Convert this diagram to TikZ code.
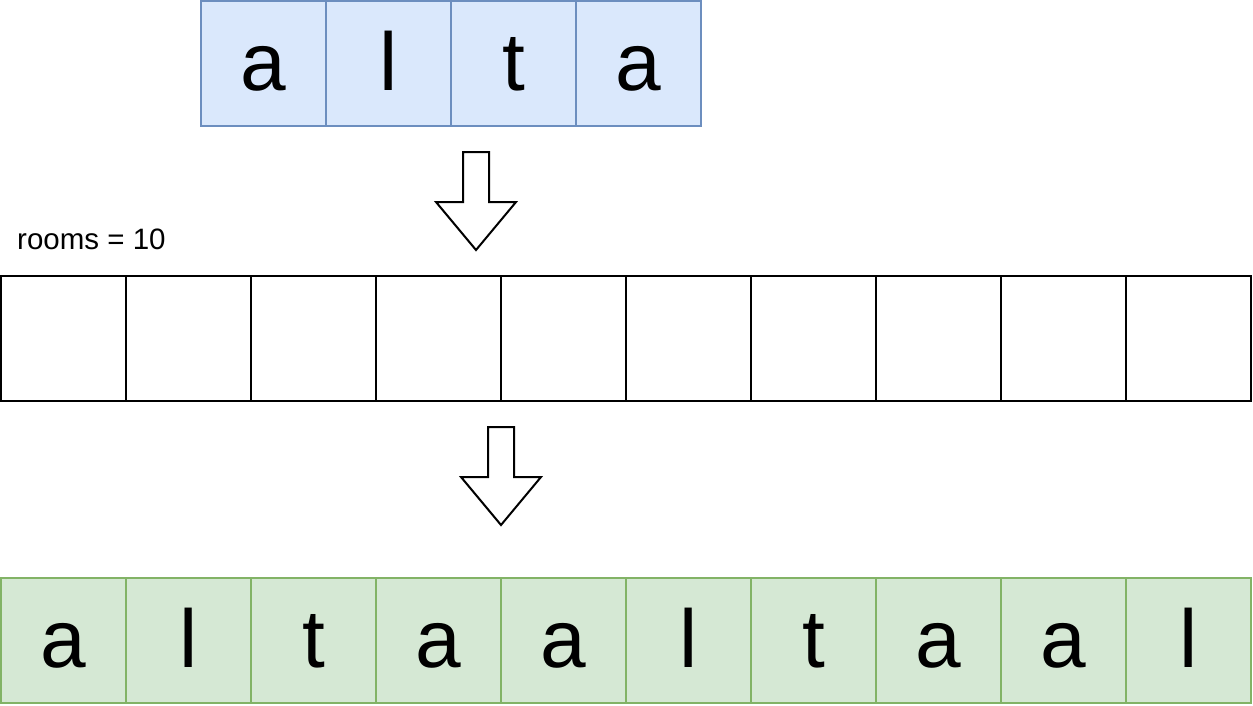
\documentclass[tikz,border=0pt]{standalone}
\usepackage{fontspec}
\setmainfont{Liberation Sans}
\definecolor{bluefill}{HTML}{DAE8FC}
\definecolor{bluedraw}{HTML}{6C8EBF}
\definecolor{greenfill}{HTML}{D5E8D4}
\definecolor{greendraw}{HTML}{82B366}
\begin{document}
\begin{tikzpicture}[x=1pt,y=-1pt,
  cellbox/.style={draw, line width=2pt, minimum width=125pt, minimum height=125pt, inner sep=0pt,
    font=\fontsize{82}{98}\selectfont, text height=60pt, text depth=6pt},
  bluecell/.style={cellbox, fill=bluefill, draw=bluedraw},
  greencell/.style={cellbox, fill=greenfill, draw=greendraw},
  emptycell/.style={cellbox, draw=black},
  blockarrow/.style={draw=black, line width=2pt, fill=white, line join=miter}]
\useasboundingbox (0,0) rectangle (1253,705);
% top row
\foreach \ch [count=\i] in {a,l,t,a} {
  \node[bluecell] (t\i) at ({201+125*(\i-1)+62.5},63.5) {\ch};
}
% middle row
\foreach \i in {1,...,10} {
  \node[emptycell] (m\i) at ({1+125*(\i-1)+62.5},338.5) {};
}
% bottom row
\foreach \ch [count=\i] in {a,l,t,a,a,l,t,a,a,l} {
  \node[greencell] (b\i) at ({1+125*(\i-1)+62.5},640.5) {\ch};
}
% label
\node[anchor=base west, inner sep=0pt, font=\fontsize{29.5}{35}\selectfont] (rooms) at (17,249) {rooms = 10};
% arrows
\coordinate (a1) at (476,152);
\draw[blockarrow] ([xshift=-13pt]a1) -- ([xshift=13pt]a1) -- ([xshift=13pt,yshift=-50pt]a1)
  -- ([xshift=40pt,yshift=-50pt]a1) -- ([yshift=-98pt]a1) -- ([xshift=-40pt,yshift=-50pt]a1)
  -- ([xshift=-13pt,yshift=-50pt]a1) -- cycle;
\coordinate (a2) at (501,427);
\draw[blockarrow] ([xshift=-13pt]a2) -- ([xshift=13pt]a2) -- ([xshift=13pt,yshift=-50pt]a2)
  -- ([xshift=40pt,yshift=-50pt]a2) -- ([yshift=-98pt]a2) -- ([xshift=-40pt,yshift=-50pt]a2)
  -- ([xshift=-13pt,yshift=-50pt]a2) -- cycle;
\end{tikzpicture}
\end{document}
